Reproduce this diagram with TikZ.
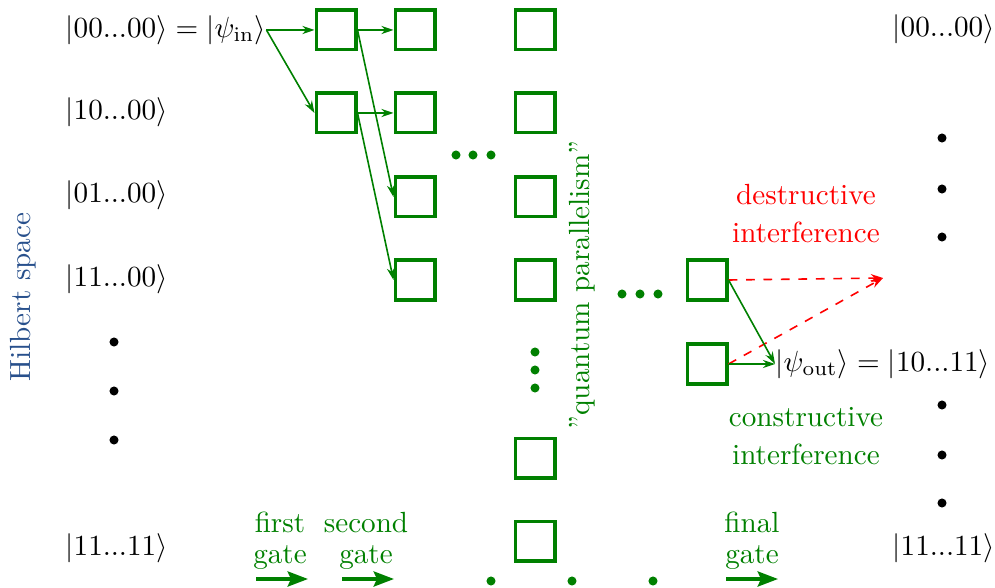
\documentclass[tikz,border=0pt]{standalone}
\usetikzlibrary{arrows.meta}
\definecolor{gr}{RGB}{0,128,0}
\definecolor{hb}{RGB}{40,80,140}
\begin{document}
\begin{tikzpicture}[x=0.343pt,y=-0.343pt,
  gbox/.style={draw=gr,line width=1.05pt,minimum size=13.7pt,inner sep=0pt},
  ket/.style={anchor=west,inner sep=0pt},
  conn/.style={draw=gr,line width=0.55pt,-{Stealth[length=4.2pt,width=2.8pt]}},
  dconn/.style={draw=red,dashed,line width=0.55pt,-{Stealth[length=4.2pt,width=2.8pt]}},
  gatearrow/.style={draw=gr,line width=1.15pt,-{Stealth[length=7pt,width=5.2pt,inset=1.2pt]}},
  bdot/.style={circle,fill=black,inner sep=0pt,minimum size=3.1pt},
  gdot/.style={circle,fill=gr,inner sep=0pt,minimum size=3.1pt},
  gtext/.style={text=gr,align=center,inner sep=0pt,anchor=base},
]
\useasboundingbox (0,0) rectangle (995,588);

% left labels
\node[ket] (in) at (65,30) {$|00...00\rangle = |\psi_{\mathrm{in}}\rangle$};
\node[ket] (l2) at (65,112) {$|10...00\rangle$};
\node[ket] (l3) at (65,195) {$|01...00\rangle$};
\node[ket] (l4) at (65,279) {$|11...00\rangle$};
\node[bdot] (ld1) at (114,342) {};
\node[bdot] (ld2) at (114,391) {};
\node[bdot] (ld3) at (114,440) {};
\node[ket] (l5) at (65,548) {$|11...11\rangle$};

\node[rotate=90,text=hb] (hil) at (23,297) {Hilbert space};

% right labels
\node[ket] (r1) at (892,29) {$|00...00\rangle$};
\node[bdot] (rd1) at (942,138) {};
\node[bdot] (rd2) at (942,189) {};
\node[bdot] (rd3) at (942,237) {};
\node[ket] (out) at (775,364) {$|\psi_{\mathrm{out}}\rangle = |10...11\rangle$};
\node[bdot] (rd4) at (942,405) {};
\node[bdot] (rd5) at (942,455) {};
\node[bdot] (rd6) at (942,503) {};
\node[ket] (r5) at (892,548) {$|11...11\rangle$};

% boxes
\node[gbox] (a1) at (336,30) {};
\node[gbox] (a2) at (336,113) {};
\node[gbox] (b1) at (415,30) {};
\node[gbox] (b2) at (415,113) {};
\node[gbox] (b3) at (415,197) {};
\node[gbox] (b4) at (415,280) {};
\node[gbox] (c1) at (535,30) {};
\node[gbox] (c2) at (535,113) {};
\node[gbox] (c3) at (535,197) {};
\node[gbox] (c4) at (535,280) {};
\node[gbox] (c5) at (535,458) {};
\node[gbox] (c6) at (535,541) {};
\node[gbox] (f1) at (707,280) {};
\node[gbox] (f2) at (707,364) {};

% green dots
\node[gdot] (hd1) at (456,155) {};
\node[gdot] (hd2) at (473,155) {};
\node[gdot] (hd3) at (491,155) {};
\node[gdot] (kd1) at (622,294) {};
\node[gdot] (kd2) at (640,294) {};
\node[gdot] (kd3) at (658,294) {};
\node[gdot] (vd1) at (535,352) {};
\node[gdot] (vd2) at (535,370) {};
\node[gdot] (vd3) at (535,388) {};
\node[gdot] (bd1) at (491,581) {};
\node[gdot] (bd2) at (572,581) {};
\node[gdot] (bd3) at (653,581) {};

\node[rotate=90,text=gr] (qp) at (582,285) {''quantum parallelism''};

% connectors
\draw[conn] (in.east) -- (a1.west);
\draw[conn] (in.east) -- (a2.west);
\draw[conn] (a1.east) -- (b1.west);
\draw[conn] (a1.east) -- (b3.west);
\draw[conn] (a2.east) -- (b2.west);
\draw[conn] (a2.east) -- (b4.west);

\coordinate (dz) at (883,278);
\draw[dconn] (f1.east) -- (dz);
\draw[dconn] (f2.east) -- (dz);
\draw[conn] (f1.east) -- (out.west);
\draw[conn] (f2.east) -- (out.west);

% interference labels
\node[gtext,text=red] (dest) at (806,242) {destructive\\[0.8pt]interference};
\node[gtext] (cons) at (806,464) {constructive\\[1pt]interference};

% gate labels
\node[gtext] (g1) at (280,563) {first\\[-1.7pt]gate};
\node[gtext] (g2) at (366,563) {second\\[-1.7pt]gate};
\node[gtext] (g3) at (752,563) {final\\[-1.7pt]gate};
\coordinate (g1s) at (256,579);
\coordinate (g1e) at (308,579);
\coordinate (g2s) at (342,579);
\coordinate (g2e) at (394,579);
\coordinate (g3s) at (726,579);
\coordinate (g3e) at (778,579);
\draw[gatearrow] (g1s) -- (g1e);
\draw[gatearrow] (g2s) -- (g2e);
\draw[gatearrow] (g3s) -- (g3e);
\end{tikzpicture}
\end{document}
